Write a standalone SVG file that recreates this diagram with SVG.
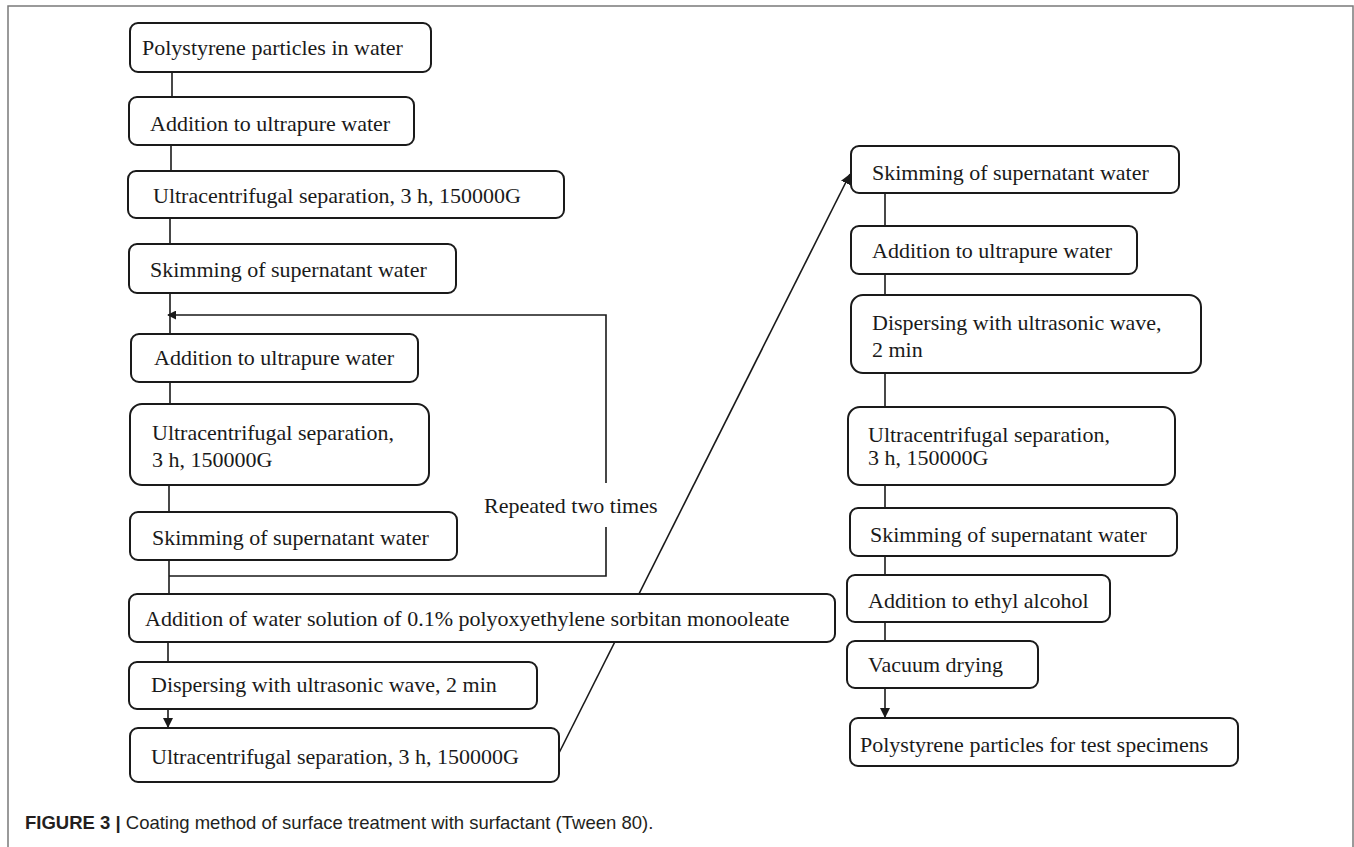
<svg xmlns="http://www.w3.org/2000/svg" width="1354" height="847" viewBox="0 0 1354 847">
<style>
.bg{fill:#ffffff}
.frame{fill:none;stroke:#7a7a7a;stroke-width:1.5}
.box{fill:#ffffff;stroke:#1a1a1a;stroke-width:2}
.lbl{font-family:"Liberation Serif","Times New Roman",serif;font-size:22px;fill:#1a1a1a}
.ln{fill:none;stroke:#1a1a1a;stroke-width:1.6}
.cap{font-family:"Liberation Sans",Arial,sans-serif;font-size:18.5px;fill:#231f20}
.capb{font-weight:bold}
</style>
<defs>
<marker id="ah" viewBox="0 0 10 10" refX="10" refY="5" markerWidth="10" markerHeight="10" markerUnits="userSpaceOnUse" orient="auto">
<path d="M0,0 L10,5 L0,10 Z" fill="#1a1a1a"/>
</marker>
<marker id="ahs" viewBox="0 0 10 10" refX="9" refY="5" markerWidth="9" markerHeight="9" markerUnits="userSpaceOnUse" orient="auto">
<path d="M0,0 L10,5 L0,10 Z" fill="#1a1a1a"/>
</marker>
</defs>
<rect class="bg" x="0" y="0" width="1354" height="847"/>
<path class="frame" d="M8,847 V6 H1353 V847"/>

<g id="connectors">
<path class="ln" d="M172,72 V97"/>
<path class="ln" d="M171,145 V171"/>
<path class="ln" d="M170,218 V244"/>
<path class="ln" d="M170,293 V334"/>
<path class="ln" d="M170,382 V404"/>
<path class="ln" d="M169,485 V512"/>
<path class="ln" d="M169,560 V594"/>
<path class="ln" d="M168,642 V662"/>
<path class="ln" d="M168,709 V728" marker-end="url(#ah)"/>
<path class="ln" d="M169,576 H606 V527"/>
<path class="ln" d="M606,483 V315 H168" marker-end="url(#ahs)"/>
<path class="ln" d="M559,753 L850,174" marker-end="url(#ah)"/>
<path class="ln" d="M885,193 V226"/>
<path class="ln" d="M885,274 V295"/>
<path class="ln" d="M885,373 V407"/>
<path class="ln" d="M885,485 V508"/>
<path class="ln" d="M885,556 V575"/>
<path class="ln" d="M885,622 V641"/>
<path class="ln" d="M885,688 V718" marker-end="url(#ah)"/>
<text class="lbl" x="484" y="513">Repeated two times</text>
</g>

<g id="n1"><rect class="box" x="130" y="23" width="301" height="49" rx="8"/><text class="lbl" x="142" y="55">Polystyrene particles in water</text></g>
<g id="n2"><rect class="box" x="129" y="97" width="285" height="48" rx="8"/><text class="lbl" x="150" y="131">Addition to ultrapure water</text></g>
<g id="n3"><rect class="box" x="128" y="171" width="436" height="47" rx="8"/><text class="lbl" x="153" y="203">Ultracentrifugal separation, 3 h, 150000G</text></g>
<g id="n4"><rect class="box" x="129" y="244" width="327" height="49" rx="8"/><text class="lbl" x="150" y="277">Skimming of supernatant water</text></g>
<g id="n5"><rect class="box" x="131" y="334" width="287" height="48" rx="8"/><text class="lbl" x="154" y="365">Addition to ultrapure water</text></g>
<g id="n6"><rect class="box" x="130" y="404" width="299" height="81" rx="12"/><text class="lbl" x="152" y="440">Ultracentrifugal separation,</text><text class="lbl" x="152" y="467">3 h, 150000G</text></g>
<g id="n7"><rect class="box" x="130" y="512" width="327" height="48" rx="8"/><text class="lbl" x="152" y="545">Skimming of supernatant water</text></g>
<g id="n8"><rect class="box" x="129" y="594" width="706" height="48" rx="8"/><text class="lbl" x="145" y="626">Addition of water solution of 0.1% polyoxyethylene sorbitan monooleate</text></g>
<g id="n9"><rect class="box" x="129" y="662" width="408" height="47" rx="8"/><text class="lbl" x="151" y="692">Dispersing with ultrasonic wave, 2 min</text></g>
<g id="n10"><rect class="box" x="130" y="728" width="429" height="54" rx="8"/><text class="lbl" x="151" y="764">Ultracentrifugal separation, 3 h, 150000G</text></g>

<g id="r1"><rect class="box" x="851" y="146" width="328" height="47" rx="8"/><text class="lbl" x="872" y="180">Skimming of supernatant water</text></g>
<g id="r2"><rect class="box" x="851" y="226" width="286" height="48" rx="8"/><text class="lbl" x="872" y="258">Addition to ultrapure water</text></g>
<g id="r3"><rect class="box" x="851" y="295" width="350" height="78" rx="12"/><text class="lbl" x="872" y="330">Dispersing with ultrasonic wave,</text><text class="lbl" x="872" y="357">2 min</text></g>
<g id="r4"><rect class="box" x="848" y="407" width="327" height="78" rx="12"/><text class="lbl" x="868" y="442">Ultracentrifugal separation,</text><text class="lbl" x="868" y="465">3 h, 150000G</text></g>
<g id="r5"><rect class="box" x="850" y="508" width="327" height="48" rx="8"/><text class="lbl" x="870" y="542">Skimming of supernatant water</text></g>
<g id="r6"><rect class="box" x="847" y="575" width="263" height="47" rx="8"/><text class="lbl" x="868" y="608">Addition to ethyl alcohol</text></g>
<g id="r7"><rect class="box" x="847" y="641" width="191" height="47" rx="8"/><text class="lbl" x="868" y="672">Vacuum drying</text></g>
<g id="r8"><rect class="box" x="850" y="718" width="388" height="48" rx="8"/><text class="lbl" x="860" y="752">Polystyrene particles for test specimens</text></g>

<g id="caption"><text class="cap" x="25" y="829"><tspan class="capb">FIGURE 3 |</tspan> Coating method of surface treatment with surfactant (Tween 80).</text></g>
</svg>
